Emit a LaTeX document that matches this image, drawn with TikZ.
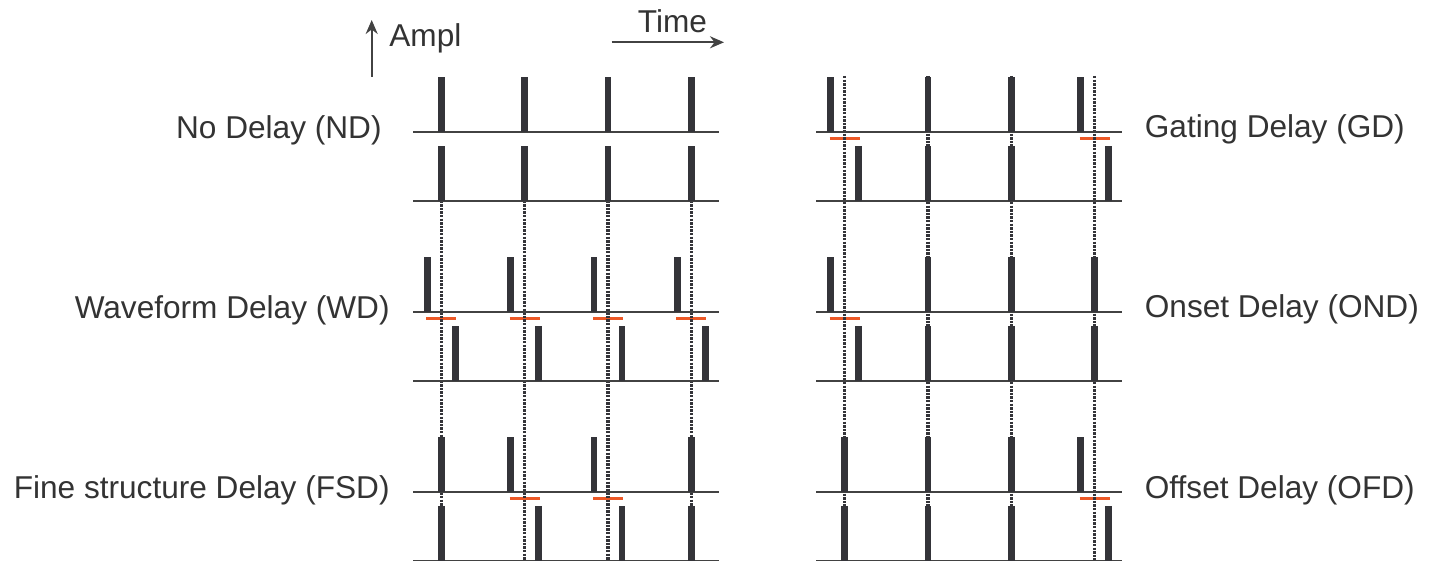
\documentclass[tikz,border=0pt]{standalone}
\usepackage{fontspec}
\setmainfont{Liberation Sans}
\usetikzlibrary{arrows.meta}
\definecolor{pulsegray}{RGB}{52,52,57}
\definecolor{axisgray}{RGB}{66,66,66}
\definecolor{textgray}{RGB}{51,51,51}
\definecolor{lagorange}{RGB}{236,88,38}
\tikzset{pulse/.style={fill=pulsegray},
      axisline/.style={draw=axisgray, line width=1pt},
      guide/.style={draw=pulsegray, line width=1.6pt,
      dash pattern=on 1.2pt off 0.6pt},
      lag/.style={draw=lagorange, line width=1.6pt},
      rowname/.style={font=\fontsize{15.8}{18}\selectfont,
      text=textgray, inner sep=0pt},
      >={Stealth[length=7pt,width=6pt]}}
% one pulse on each baseline, moved apart by #3
\newcommand\pulsepair[3]{%
  \fill[pulse] (#1-#3-3.25,#2) rectangle ++(6.5,-55);
  \fill[pulse] (#1+#3-3.25,#2+69) rectangle ++(6.5,-55);}
% both baselines of one condition with its four pulse pairs
\newcommand\delayrow[6]{%
  \draw[axisline] (#1-28.3,#2) -- ++(306,0) (#1-28.3,#2+69) -- ++(306,0);
  \pulsepair{#1}{#2}{#3}
  \pulsepair{#1+83.3}{#2}{#4}
  \pulsepair{#1+166.7}{#2}{#5}
  \pulsepair{#1+250}{#2}{#6}}
% the delay between a pair
\newcommand\lagbar[2]{\draw[lag] (#1-15,#2+7) -- ++(30,0);}

\begin{document}
\begin{tikzpicture}[x=0.5pt,y=-0.5pt]
  \useasboundingbox (0,0) rectangle (1430,561);

  \coordinate (ampl-foot) at (371.7,77);
  \coordinate (ampl-tip) at (371.7,20);
  \coordinate (time-foot) at (611.7,42.3);
  \coordinate (time-tip) at (724,42.3);
  \draw[->, axisline] (ampl-foot) -- (ampl-tip);
  \draw[->, axisline] (time-foot) -- (time-tip);
  \node[rowname, anchor=base west] (ampl) at (389,47) {Ampl};
  \node[rowname, anchor=base west] (time) at (637.5,32.5) {Time};

  \lagbar{441.3}{311.7} \lagbar{524.7}{311.7} \lagbar{608}{311.7} \lagbar{691.3}{311.7}
  \lagbar{524.7}{491.7} \lagbar{608}{491.7}
  \lagbar{844.7}{131.7} \lagbar{1094.7}{131.7}
  \lagbar{844.7}{311.7}
  \lagbar{1094.7}{491.7}

  % reference times
  \draw[guide] (441.3,200.7) -- (441.3,561) (524.6,200.7) -- (524.6,561)
               (608,200.7) -- (608,561) (691.3,200.7) -- (691.3,561);
  \draw[guide] (844.7,76) -- (844.7,561) (928,76) -- (928,561)
               (1011.4,76) -- (1011.4,561) (1094.7,76) -- (1094.7,561);

  \delayrow{441.3}{131.7}{0}{0}{0}{0}
  \delayrow{441.3}{311.7}{14}{14}{14}{14}
  \delayrow{441.3}{491.7}{0}{14}{14}{0}
  \delayrow{844.7}{131.7}{14}{0}{0}{14}
  \delayrow{844.7}{311.7}{14}{0}{0}{0}
  \delayrow{844.7}{491.7}{0}{0}{0}{14}

  \node[rowname, anchor=base east] (nd) at (382,138.5) {No Delay (ND)};
  \node[rowname, anchor=base east] (wd) at (390,318.5) {Waveform Delay (WD)};
  \node[rowname, anchor=base east] (fsd) at (390,498.5) {Fine structure Delay (FSD)};
  \node[rowname, anchor=base west] (gd) at (1144.5,138) {Gating Delay (GD)};
  \node[rowname, anchor=base west] (ond) at (1144.5,318) {Onset Delay (OND)};
  \node[rowname, anchor=base west] (ofd) at (1144.5,498) {Offset Delay (OFD)};
\end{tikzpicture}
\end{document}
